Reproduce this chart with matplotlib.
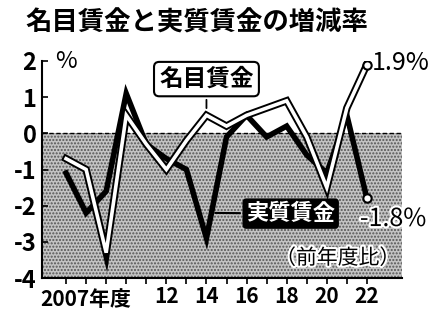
import matplotlib.pyplot as plt
import matplotlib.patheffects as pe

plt.rcParams['font.family'] = ['Noto Sans CJK JP', 'DejaVu Sans']

# data (fiscal year, % change from previous year)
years = list(range(2007, 2023))
nominal = [-0.7, -1.0, -3.3, 0.5, -0.3, -1.0, -0.2, 0.5, 0.2, 0.5, 0.7, 0.9, -0.1, -1.5, 0.7, 1.9]
real = [-1.1, -2.2, -1.6, 1.1, -0.3, -0.7, -1.0, -2.9, -0.1, 0.5, -0.1, 0.2, -0.6, -1.1, 0.5, -1.8]
ytick_vals = [2, 1, 0, -1, -2, -3, -4]
ytick_labels = ['2', '1', '0', '-1', '-2', '-3', '-4']
xtick_vals = [2012, 2014, 2016, 2018, 2020, 2022]
xtick_labels = ['12', '14', '16', '18', '20', '22']

fig = plt.figure(figsize=(4.38, 3.2), dpi=100)
ax = fig.add_axes([42/438, 1-278/320, 360/438, 217/320])

x0, x1 = 2005.8, 2023.75
ax.set_xlim(x0, x1)
ax.set_ylim(-4, 2)

# stippled area below zero
ax.fill_between([x0, x1], -4, 0, facecolor='#c4c4c4', hatch='.....',
                edgecolor='#555555', linewidth=0, zorder=0)
ax.axhline(0, color='black', lw=1, ls=(0, (3, 2)), zorder=1)

# real wage: thick black line
ax.plot(years, real, color='black', lw=4, solid_joinstyle='miter', zorder=3)
# nominal wage: white line with black outline
ax.plot(years, nominal, color='black', lw=5.4, solid_joinstyle='miter', zorder=4)
ax.plot(years, nominal, color='white', lw=2.6, solid_joinstyle='miter', zorder=5)

# end markers
ax.plot(years[-1], nominal[-1], 'o', ms=6, mfc='white', mec='black', mew=1.5, zorder=6)
ax.plot(years[-1], real[-1], 'o', ms=6, mfc='white', mec='black', mew=1.5, zorder=6)

ax.spines[['top', 'right']].set_visible(False)
ax.spines['left'].set_linewidth(1.5)
ax.spines['bottom'].set_linewidth(1.5)

ax.set_yticks(ytick_vals)
ax.set_yticklabels(ytick_labels, fontsize=17, fontweight='bold')
ax.tick_params(axis='y', direction='in', length=4, width=1.2, pad=4)

ax.set_xticks(years, minor=True)
ax.set_xticks(xtick_vals)
ax.set_xticklabels(xtick_labels, fontsize=15, fontweight='bold')
ax.tick_params(axis='x', which='both', direction='out', length=4, width=1.2, pad=2)
ax.text(x0 - 0.1, -4.3, '2007年度', fontsize=15, fontweight='bold',
        ha='left', va='top', clip_on=False)

ax.text(2007, 2.0, '%', fontsize=17, ha='center', va='center', clip_on=False)

# callouts
ax.annotate('名目賃金', xy=(2014, 0.62), xytext=(2014, 1.5), fontsize=17,
            fontweight='bold', ha='center', va='center', zorder=7,
            bbox=dict(boxstyle='round,pad=0.22', fc='white', ec='black', lw=1.5),
            arrowprops=dict(arrowstyle='-', color='black', lw=1.3))
ax.annotate('実質賃金', xy=(2014.3, -2.2), xytext=(2018.2, -2.22), fontsize=16,
            fontweight='bold', color='white', ha='center', va='center', zorder=7,
            bbox=dict(boxstyle='round,pad=0.12', fc='black', ec='black', lw=1.5),
            arrowprops=dict(arrowstyle='-', color='black', lw=1.5))

ax.text(2022.25, 1.95, '1.9%', fontsize=18, ha='left', va='center', clip_on=False)
ax.text(2021.65, -2.37, '-1.8%', fontsize=18, ha='left', va='center', clip_on=False,
        path_effects=[pe.withStroke(linewidth=3, foreground='white')], zorder=7)
ax.text(2020.55, -3.45, '（前年度比）', fontsize=15, ha='center', va='center',
        path_effects=[pe.withStroke(linewidth=3, foreground='white')], zorder=7)

fig.text(25/438, 1-10/320, '名目賃金と実質賃金の増減率', fontsize=19,
         fontweight='bold', ha='left', va='top')

fig.savefig('out.png', dpi=100)
